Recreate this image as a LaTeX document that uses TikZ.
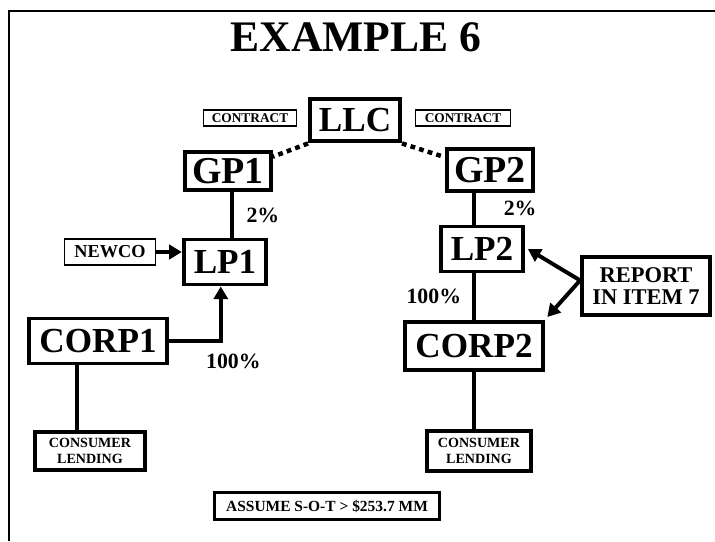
\documentclass[tikz,border=0pt]{standalone}
\usepackage{fontspec}
\setmainfont{Liberation Serif}
\usetikzlibrary{
	arrows.meta,
	positioning,
	calc,
}
\tikzset{every picture/.style={/utils/exec={\rmfamily\bfseries}}}

\begin{document}
\begin{tikzpicture} [
			x=0.025cm, y=-0.025cm,
			every node/.style={align=center,rectangle},
			ent/.style={draw,line width=2.8pt,inner sep=0pt,font=\fontsize{25}{26}\selectfont},
			note/.style={draw,line width=0.9pt,inner sep=0pt},
			small/.style={draw,line width=2.8pt,inner sep=0pt,font=\fontsize{10}{11}\selectfont},
			pct/.style={inner sep=0pt,font=\fontsize{15.5}{16}\selectfont},
			link/.style={draw,line width=2.8pt},
			arr/.style={draw,line width=2.8pt,-{Triangle[length=9pt,width=10pt]}}
		]
		\useasboundingbox (0,0) rectangle (715,541);
		% frame and title
		\draw[line width=1.1pt] (9,541) -- (9,11) -- (715,11);
		\node[inner sep=0pt,font=\fontsize{31}{32}\selectfont] (title) at (356,37) {EXAMPLE 6};

		\node [ent, minimum width=64pt, minimum height=30.5pt] (llc) at (355,120) {LLC};
		\node [note, minimum width=66.5pt, minimum height=11.5pt, font=\fontsize{9.5}{10}\selectfont] (con1) at (250,118) {CONTRACT};
		\node [note, minimum width=68pt, minimum height=11.5pt, font=\fontsize{9.5}{10}\selectfont] (con2) at (463,118) {CONTRACT};

		\node [ent, minimum width=61pt, minimum height=27.5pt, font=\fontsize{27}{28}\selectfont] (gp1) at (228,171) {GP1};
		\node [ent, minimum width=61.5pt, minimum height=29.5pt, font=\fontsize{27}{28}\selectfont] (gp2) at (490,170) {GP2};
		\node [ent, minimum width=58.5pt, minimum height=32pt] (lp1) at (225,262) {LP1};
		\node [ent, minimum width=58.5pt, minimum height=32pt] (lp2) at (482,249) {LP2};
		\node [note, minimum width=65pt, minimum height=18.5pt, font=\fontsize{13}{14}\selectfont] (newco) at (110,252) {NEWCO};
		\node [ent, minimum width=97.5pt, minimum height=32pt] (corp1) at (98,341) {CORP1};
		\node [ent, minimum width=97.5pt, minimum height=34.5pt] (corp2) at (474,346) {CORP2};
		\node [small, minimum width=78.5pt, minimum height=27.5pt] (cons1) at (90,451) {CONSUMER \\ LENDING};
		\node [small, minimum width=74pt, minimum height=29pt] (cons2) at (479,451) {CONSUMER \\ LENDING};
		\node [ent, minimum width=91pt, minimum height=41pt, font=\fontsize{16}{15}\selectfont] (report) at (646,286) {REPORT \\ IN ITEM 7};
		\node [draw, line width=2.4pt, inner sep=0pt, minimum width=160pt, minimum height=19pt, font=\fontsize{11}{12}\selectfont] (assume) at (327,506) {ASSUME S-O-T > \$253.7 MM};

		\path[draw,line width=3.2pt,dash pattern=on 3.4pt off 3pt] (llc.south west) -- ([yshift=-5pt]gp1.north east);
		\path[draw,line width=3.2pt,dash pattern=on 3.4pt off 3pt] (llc.south east) -- ([yshift=-7pt]gp2.north west);

		\path[link] ([xshift=3pt]gp1.south) -- coordinate[midway] (g1) ([xshift=3pt]gp1.south |- lp1.north);
		\node[pct, right=10pt] at (g1) {2\%};
		\path[arr] (newco.east) -- (newco.east -| lp1.west);
		\path[arr] (corp1.east) -| coordinate[pos=0.5] (c1) ([xshift=-3pt]lp1.south);
		\node[pct, below=9pt, xshift=9pt] at (c1) {100\%};
		\path[link] ([xshift=-9pt]cons1.north) -- ([xshift=-9pt]cons1.north |- corp1.south);

		\path[link] (gp2.south -| corp2.north) -- coordinate[midway] (g2) (lp2.north -| corp2.north);
		\node[pct, right=21pt] at (g2) {2\%};
		\path[link] (lp2.south -| corp2.north) -- coordinate[midway] (c2) (corp2.north);
		\node[pct, left=9pt] at (c2) {100\%};
		\path[link] (corp2.south) -- (corp2.south |- cons2.north);

		\coordinate (rs) at ([yshift=4pt]report.west);
		\path[arr] (rs) -- ([xshift=2pt]lp2.east);
		\path[arr] (rs) -- ([xshift=2pt,yshift=2pt]corp2.north east);
	\end{tikzpicture}
\end{document}
